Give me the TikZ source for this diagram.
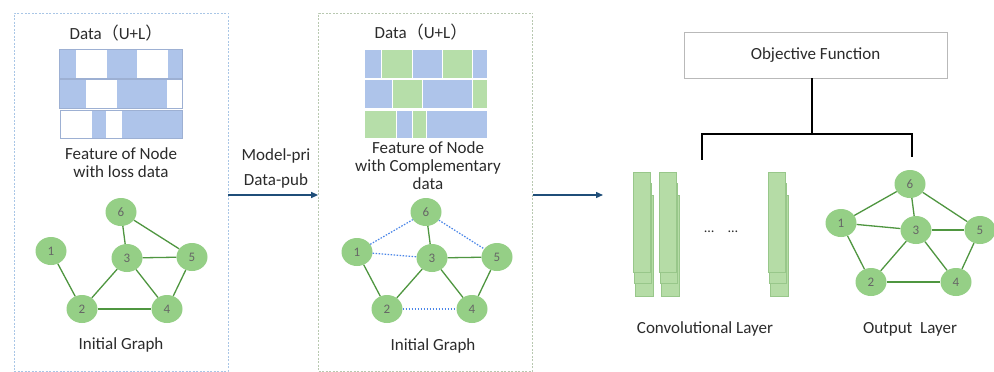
\documentclass[tikz,border=0pt]{standalone}
\usepackage{fontspec}
\setmainfont{Carlito}
\newfontfamily\cjk{Noto Sans CJK SC}
\usetikzlibrary{arrows.meta,shapes.geometric}
\definecolor{bblue}{HTML}{AEC4EA}
\definecolor{bgreen}{HTML}{B6DEA9}
\definecolor{cgreen}{HTML}{B5DCA6}
\definecolor{cedge}{HTML}{98C78A}
\definecolor{ngreen}{HTML}{95CF86}
\definecolor{egreen}{HTML}{4F9640}
\definecolor{txt}{HTML}{2B2B2B}
\definecolor{arrowblue}{HTML}{1F4E79}
\definecolor{dotblue}{HTML}{4A86E8}
\definecolor{boxblue}{HTML}{A9C6E6}
\definecolor{boxgreen}{HTML}{B8C8B0}
\tikzset{
  gnode/.style={ellipse, fill=ngreen, minimum width=31pt, minimum height=28pt, inner sep=0pt,
    font=\fontsize{13}{13}\selectfont, text=black!60},
  gedge/.style={egreen, line width=1.3pt},
  bedge/.style={dotblue, line width=1.2pt, dash pattern=on 1.5pt off 1.5pt},
  lbl/.style={font=\fontsize{17}{18}\selectfont, text=txt, align=center, inner sep=0pt},
  panel/.style={minimum width=214pt, minimum height=358pt, inner sep=0pt, line width=0.8pt,
    dash pattern=on 2pt off 1.5pt},
  arr/.style={arrowblue, line width=1.3pt, -{Triangle[length=7pt,width=6pt]}},
  cell/.style={draw=white, line width=0.9pt},
  rowline/.style={draw=bblue!90!black, line width=0.5pt},
  conv/.style={fill=cgreen, draw=cedge, line width=0.5pt},
  bracket/.style={black, line width=1.5pt},
}
\begin{document}
\begin{tikzpicture}[x=1pt,y=-1pt]
\useasboundingbox (0,0) rectangle (994,372);
\fill[white] (0,0) rectangle (994,372);

% panels
\node[panel, draw=boxblue] (boxL) at (121,192) {};
\node[panel, draw=boxgreen] (boxM) at (425.5,192) {};

% ---------- left panel ----------
\node[lbl] (dataL) at (116,33) {Data{\cjk （}U+L{\cjk ）}};
\foreach \xa/\xb/\c in {59/76/bblue,76/106/white,106/137/bblue,137/167/white,167/182/bblue}
  \filldraw[cell, fill=\c] (\xa,49) rectangle (\xb,78);
\foreach \xa/\xb/\c in {59/86/bblue,86/116/white,116/167/bblue,167/182/white}
  \filldraw[cell, fill=\c] (\xa,79.5) rectangle (\xb,108.5);
\foreach \xa/\xb/\c in {60/91/white,91/106/bblue,106/121/white,121/182/bblue}
  \filldraw[cell, fill=\c] (\xa,110) rectangle (\xb,138);
\draw[rowline] (59,49) rectangle (182,78);
\draw[rowline] (59,79.5) rectangle (182,108.5);
\draw[rowline] (60,110) rectangle (182,138);
\node[lbl] (featL) at (121,163) {Feature of Node\\with loss data};

\node[gnode] (a6) at (121,212) {6};
\node[gnode] (a1) at (51,251) {1};
\node[gnode] (a3) at (127,258) {3};
\node[gnode] (a5) at (192,257) {5};
\node[gnode] (a2) at (82,309) {2};
\node[gnode] (a4) at (167,309) {4};
\draw[gedge] (a1) -- (a2);
\draw[gedge] (a2) -- (a3);
\draw[gedge] (a2) -- (a4);
\draw[gedge] (a3) -- (a4);
\draw[gedge] (a3) -- (a5);
\draw[gedge] (a3) -- (a6);
\draw[gedge] (a6) -- (a5);
\draw[gedge] (a5) -- (a4);
\node[lbl] (initL) at (121,345) {Initial Graph};

% ---------- arrow 1 ----------
\draw[arr] ([yshift=-3pt]boxL.east) -- ([yshift=-3pt]boxM.west);
\node[lbl, font=\fontsize{17}{25}\selectfont] (mp) at (276,168) {Model-pri\\Data-pub};

% ---------- middle panel ----------
\node[lbl] (dataM) at (421,32) {Data{\cjk （}U+L{\cjk ）}};
\foreach \xa/\xb/\c in {364/381/bblue,381/412/bgreen,412/442/bblue,442/472/bgreen,472/487/bblue}
  \filldraw[cell, fill=\c] (\xa,49) rectangle (\xb,78);
\foreach \xa/\xb/\c in {364/392/bblue,392/422/bgreen,422/472/bblue,472/487/bgreen}
  \filldraw[cell, fill=\c] (\xa,79.5) rectangle (\xb,108.5);
\foreach \xa/\xb/\c in {364/396/bgreen,396/412/bblue,412/426/bgreen,426/487/bblue}
  \filldraw[cell, fill=\c] (\xa,110) rectangle (\xb,138);
\node[lbl] (featM) at (428,165.5) {Feature of Node\\with Complementary\\data};

\node[gnode] (b6) at (426,212) {6};
\node[gnode] (b1) at (357,252) {1};
\node[gnode] (b3) at (432,258) {3};
\node[gnode] (b5) at (497,257) {5};
\node[gnode] (b2) at (387,309) {2};
\node[gnode] (b4) at (472,309) {4};
\draw[gedge] (b1) -- (b2);
\draw[gedge] (b2) -- (b3);
\draw[gedge] (b3) -- (b4);
\draw[gedge] (b3) -- (b5);
\draw[gedge] (b3) -- (b6);
\draw[gedge] (b5) -- (b4);
\draw[bedge] (b1) -- (b6);
\draw[bedge] (b1) -- (b3);
\draw[bedge] (b6) -- (b5);
\draw[bedge] (b2) -- (b4);
\node[lbl] (initM) at (433,346) {Initial Graph};

% ---------- arrow 2 ----------
\coordinate (convin) at (603,195);
\draw[arr] ([yshift=-3pt]boxM.east) -- (convin);

% ---------- convolutional layer ----------
\foreach \x in {633,659,768}{
  \draw[conv] (\x+2.5,195) rectangle (\x+20,296);
  \draw[conv] (\x+1.2,183) rectangle (\x+18.5,283);
  \draw[conv] (\x,172) rectangle (\x+17,272);
}
\node[font=\fontsize{14}{14}\selectfont, text=txt] (dots) at (721,232) {\dots\quad\dots};
\node[lbl] (convL) at (705,329) {Convolutional Layer};

% ---------- output graph ----------
\node[gnode] (c6) at (910,184) {6};
\node[gnode] (c1) at (841,223) {1};
\node[gnode] (c3) at (916,230) {3};
\node[gnode] (c5) at (980,230) {5};
\node[gnode] (c2) at (871,282) {2};
\node[gnode] (c4) at (956,282) {4};
\draw[gedge] (c1) -- (c6);
\draw[gedge] (c6) -- (c3);
\draw[gedge] (c6) -- (c5);
\draw[gedge] (c1) -- (c3);
\draw[gedge] (c3) -- (c5);
\draw[gedge] (c1) -- (c2);
\draw[gedge] (c2) -- (c3);
\draw[gedge] (c3) -- (c4);
\draw[gedge] (c2) -- (c4);
\draw[gedge] (c5) -- (c4);
\node[lbl] (outL) at (910,329) {Output\ \ Layer};

% ---------- objective function ----------
\node[draw=gray!55, line width=0.8pt, minimum width=263pt, minimum height=46pt, inner sep=0pt,
  font=\fontsize{17}{18}\selectfont, text=txt] (obj) at (815.5,55) {Objective Function};
\coordinate (jn) at (812,134);
\coordinate (jl) at (702,134);
\coordinate (jr) at (912,134);
\coordinate (jlend) at (702,159);
\coordinate (jrend) at (912,156);
\draw[bracket] (obj.south -| jn) -- (jn);
\draw[bracket, line cap=rect] (jlend) -- (jl) -- (jr) -- (jrend);
\end{tikzpicture}
\end{document}
